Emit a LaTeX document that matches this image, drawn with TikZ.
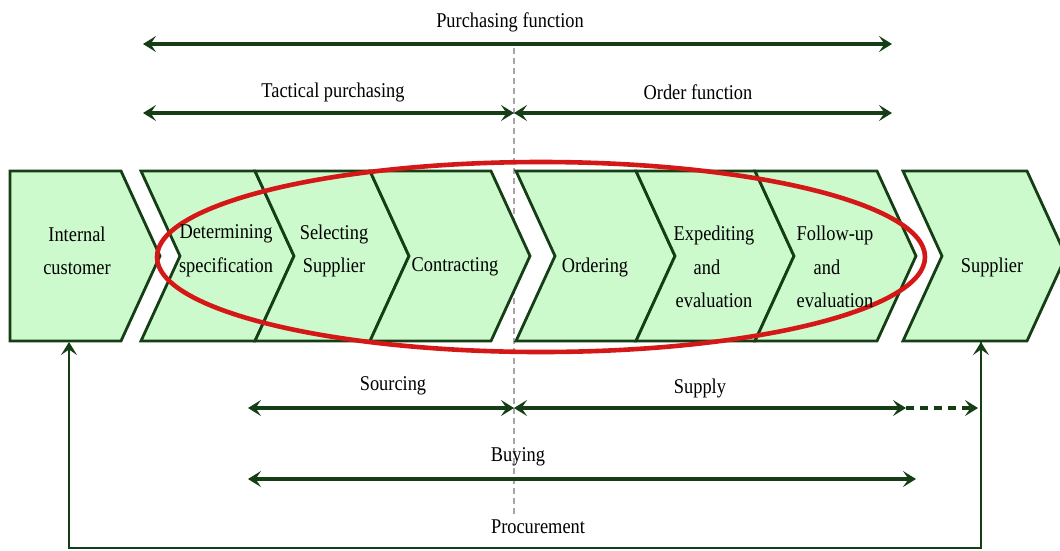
\documentclass[tikz,border=0pt]{standalone}
\usepackage{fontspec}
\setmainfont[FakeStretch=0.875]{Liberation Serif}
\usetikzlibrary{arrows.meta}
\definecolor{dkgreen}{RGB}{22,62,22}
\definecolor{ltgreen}{RGB}{204,250,204}
\definecolor{ellred}{RGB}{212,24,24}
\tikzset{
  chevron/.style={draw=dkgreen, fill=ltgreen, line width=2.8pt, line join=miter},
  lbl/.style={font=\fontsize{21}{33.5}\selectfont, align=center, inner sep=0pt, text=black},
  span/.style={draw=dkgreen, line width=3.6pt, {Stealth[length=13pt,width=16pt,inset=5.5pt]}-{Stealth[length=13pt,width=16pt,inset=5.5pt]}},
  tipend/.style={-{Stealth[length=13pt,width=16pt,inset=5.5pt]}},
  frame/.style={draw=dkgreen, line width=2.8pt},
  divider/.style={draw=gray!70, line width=1.4pt, dash pattern=on 6pt off 4pt},
}
\begin{document}
\begin{tikzpicture}[x=1pt,y=-1pt]
\useasboundingbox (0,0) rectangle (1060,550);
\clip (0,0) rectangle (1060,550);
% divider
\coordinate (dtop) at (514,48);
\coordinate (dbot) at (514,514);
\draw[divider] (dtop) -- (dbot);
% chevrons
\draw[chevron] (10,171) -- (121,171) -- (160,256) -- (121,341) -- (10,341) -- cycle;
\draw[chevron] (141,171) -- (255,171) -- (294,256) -- (255,341) -- (141,341) -- (180,256) -- cycle;
\draw[chevron] (255,171) -- (370,171) -- (409,256) -- (370,341) -- (255,341) -- (294,256) -- cycle;
\draw[chevron] (370,171) -- (491,171) -- (530,256) -- (491,341) -- (370,341) -- (409,256) -- cycle;
\draw[chevron] (516,171) -- (636,171) -- (675,256) -- (636,341) -- (516,341) -- (555,256) -- cycle;
\draw[chevron] (636,171) -- (755,171) -- (794,256) -- (755,341) -- (636,341) -- (675,256) -- cycle;
\draw[chevron] (755,171) -- (877,171) -- (916,256) -- (877,341) -- (755,341) -- (794,256) -- cycle;
\draw[chevron] (903,171) -- (1027,171) -- (1066,256) -- (1027,341) -- (903,341) -- (942,256) -- cycle;
% red ellipse
\draw[ellred, line width=4.6pt] (541,257) ellipse [x radius=384, y radius=95];
% chevron labels
\node[lbl] (ic) at (77,251) {Internal\\customer};
\node[lbl] (det) at (226,251) {Determining\\specification};
\node[lbl] (sel) at (334,251) {Selecting\\Supplier};
\node[lbl] (con) at (455,267) {Contracting};
\node[lbl] (ord) at (595,267) {Ordering};
\node[lbl] (exp) at (714,267) {Expediting\\\hspace*{-14pt}and\\evaluation};
\node[lbl] (fol) at (835,267) {Follow-up\\\hspace*{-16pt}and\\evaluation};
\node[lbl] (sup) at (992,267) {Supplier};
% top spans
\node[lbl] (pf) at (510,22) {Purchasing function};
\coordinate (pfL) at (143,44); \coordinate (pfR) at (892,44);
\draw[span] (pfL) -- (pfR);
\node[lbl] (tp) at (333,92) {Tactical purchasing};
\node[lbl] (of) at (698,92) {Order function};
\coordinate (tpL) at (143,113); \coordinate (mid1) at (514,113); \coordinate (ofR) at (892,113);
\draw[span] (tpL) -- (mid1);
\draw[span] (mid1) -- (ofR);
% bottom spans
\node[lbl] (src) at (393,386) {Sourcing};
\node[lbl] (spl) at (700,388) {Supply};
\coordinate (srcL) at (248,408); \coordinate (mid2) at (514,408);
\coordinate (splR) at (906,408); \coordinate (splD) at (978,408);
\draw[span] (srcL) -- (mid2);
\draw[span] (mid2) -- (splR);
\draw[draw=dkgreen, line width=3.6pt, dash pattern=on 8pt off 6pt, tipend] (splR) -- (splD);
\node[lbl] (buy) at (518,457) {Buying};
\coordinate (buyL) at (248,479); \coordinate (buyR) at (916,479);
\draw[span] (buyL) -- (buyR);
% procurement loop
\node[lbl] (proc) at (538,527) {Procurement};
\coordinate (icb) at (69,342);
\coordinate (supb) at (981,342);
\draw[frame, tipend] (supb) |- (525,548) -| (icb);
\draw[frame, tipend] (981,548) -- (supb);
\end{tikzpicture}
\end{document}
